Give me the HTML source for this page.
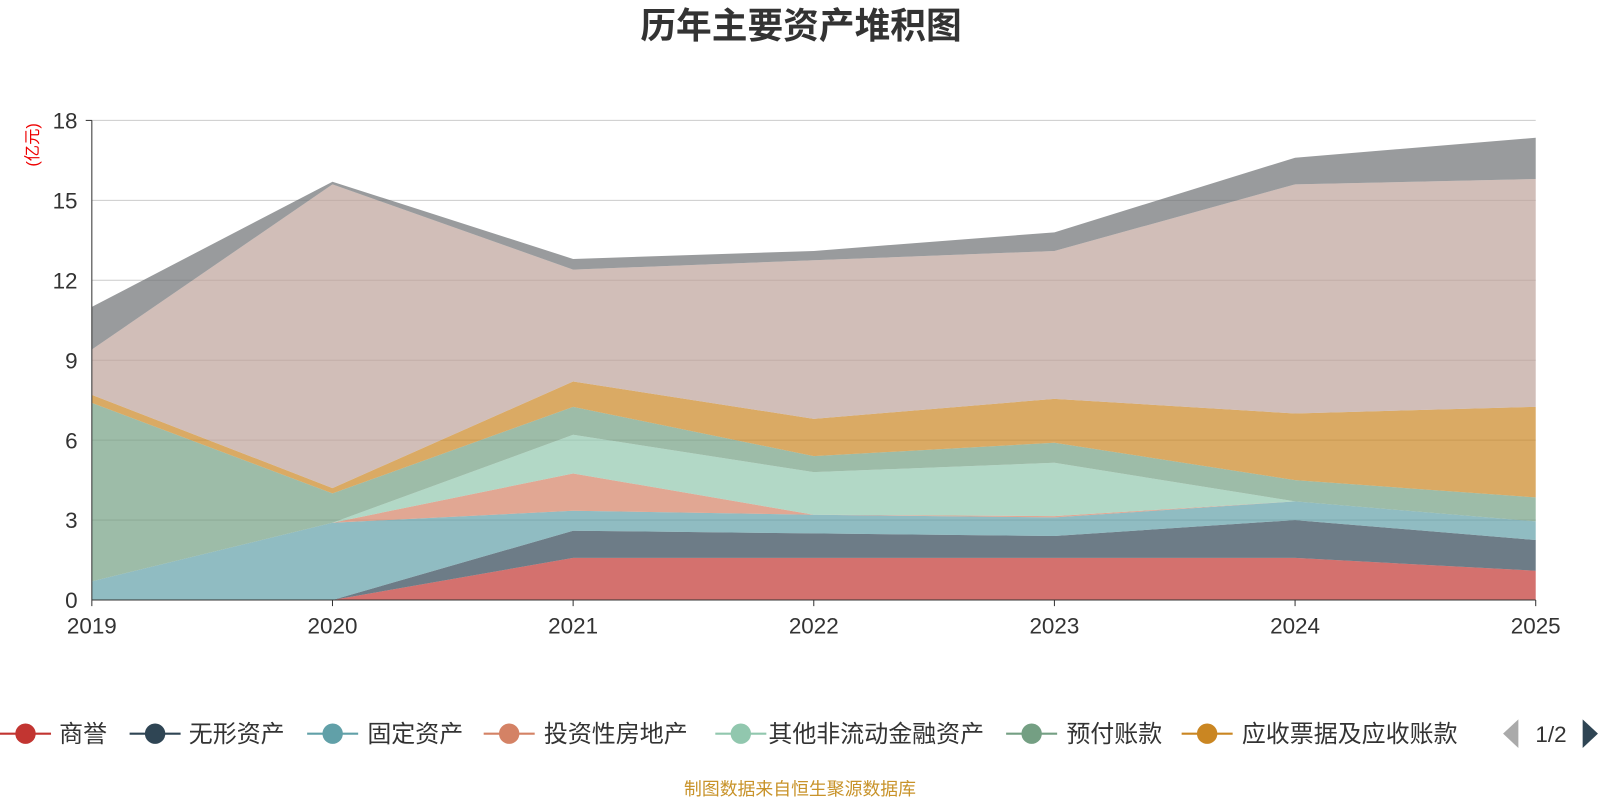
<!DOCTYPE html>
<html><head><meta charset="utf-8"><style>
body{margin:0;background:#fff;width:1600px;height:800px;overflow:hidden;font-family:"Liberation Sans","Noto Sans CJK SC",sans-serif}
</style></head><body>
<svg id="c" width="1600" height="800" viewBox="0 0 1568 784"></svg>
<script>
const years=['2019','2020','2021','2022','2023','2024','2025'];
const names=['商誉','无形资产','固定资产','投资性房地产','其他非流动金融资产','预付账款','应收票据及应收账款','存货','其他'];
const colors=['#c23531','#2f4554','#61a0a8','#d48265','#91c7ae','#749f83','#ca8622','#bda29a','#6e7074'];
const s0=[0,0,1.58,1.58,1.58,1.58,1.1];
const s1=[0,0,1.02,0.92,0.82,1.42,1.15];
const s2=[0.7,2.9,0.75,0.7,0.7,0.7,0.7];
const s3=[0,0,1.4,0,0.05,0,0];
const s4=[0,0,1.45,1.6,2.0,0,0];
const s5=[6.7,1.1,1.05,0.6,0.75,0.8,0.9];
const s6=[0.3,0.2,0.95,1.4,1.65,2.5,3.4];
const s7=[1.7,11.4,4.2,5.95,5.55,8.6,8.55];
const s8=[1.6,0.1,0.4,0.35,0.7,1.0,1.55];
const series=[s0,s1,s2,s3,s4,s5,s6,s7,s8];
const yTicks=[0,3,6,9,12,15,18];
const X=i=>90+i*(1415/6), Y=v=>588-v*(470/18);
const svg=document.getElementById('c');const NS='http://www.w3.org/2000/svg';
function el(t,a,txt){const e=document.createElementNS(NS,t);for(const k in a)e.setAttribute(k,a[k]);if(txt!=null)e.textContent=txt;svg.appendChild(e);return e;}
let e=el('text',{x:785,y:37,'text-anchor':'middle','font-size':35,'font-weight':'bold',fill:'#333'},'历年主要资产堆积图');

yTicks.forEach(t=>{if(t>0){e=el('line',{x1:90,x2:1505,y1:Y(t),y2:Y(t),stroke:'#ccc'});}
e=el('text',{x:76,y:Y(t)+8,'text-anchor':'end','font-size':22,fill:'#333'},String(t));});
let base=years.map(()=>0);
series.forEach((s,k)=>{const top=s.map((v,i)=>base[i]+v);
let d='M'+top.map((v,i)=>X(i)+','+Y(v)).join('L');for(let i=years.length-1;i>=0;i--)d+='L'+X(i)+','+Y(base[i]);
e=el('path',{d:d+'Z',fill:colors[k],'fill-opacity':0.7,stroke:'none'});base=top;});
el('line',{x1:90,x2:90,y1:118,y2:588,stroke:'#333'});
el('line',{x1:90,x2:1505,y1:588,y2:588,stroke:'#333'});
el('line',{x1:84,x2:90,y1:118,y2:118,stroke:'#333'});
years.forEach((y,i)=>{el('line',{x1:X(i),x2:X(i),y1:588,y2:594,stroke:'#333'});
e=el('text',{x:X(i),y:621,'text-anchor':'middle','font-size':22,fill:'#333'},y);});
e=el('text',{x:0,y:0,transform:'translate(37,142) rotate(-90)','text-anchor':'middle','font-size':16,fill:'#e00'},'(亿元)');
const lx=[25,152,326,499,726,1011,1183],tx=[58,185,360,533,753,1045,1217];
for(let k=0;k<7;k++){const g=document.createElementNS(NS,'g');svg.appendChild(g);

const l=document.createElementNS(NS,'line');[['x1',lx[k]-25],['x2',lx[k]+25],['y1',719],['y2',719],['stroke',colors[k]],['stroke-width',2]].forEach(a=>l.setAttribute(a[0],a[1]));g.appendChild(l);
const c=document.createElementNS(NS,'circle');[['cx',lx[k]],['cy',719],['r',10],['fill',colors[k]]].forEach(a=>c.setAttribute(a[0],a[1]));g.appendChild(c);
const t=document.createElementNS(NS,'text');[['x',tx[k]],['y',727],['font-size',23.5],['fill','#333']].forEach(a=>t.setAttribute(a[0],a[1]));t.textContent=names[k];g.appendChild(t);}
e=el('polygon',{points:'1488,705 1488,733 1473,719',fill:'#aaa'});
e=el('text',{x:1520,y:727,'text-anchor':'middle','font-size':22,fill:'#333'},'1/2');
e=el('polygon',{points:'1551,705 1551,733 1566,719',fill:'#2f4554'});
e=el('text',{x:784,y:779,'text-anchor':'middle','font-size':17.5,fill:'#c8932a'},'制图数据来自恒生聚源数据库');
</script>
</body></html>
